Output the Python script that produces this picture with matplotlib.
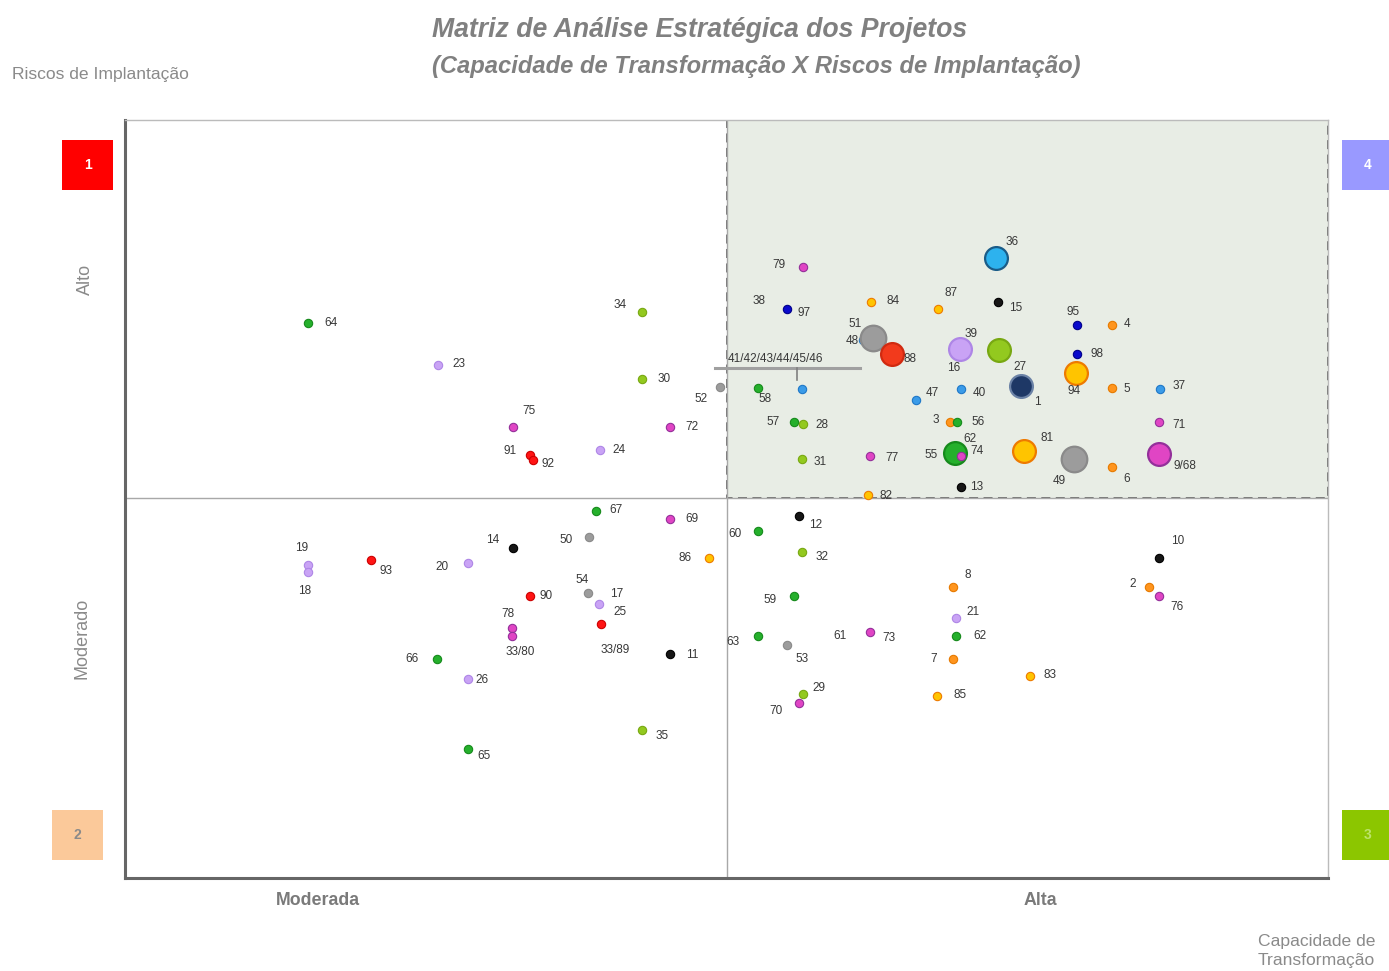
import matplotlib
matplotlib.use('Agg')
import matplotlib.pyplot as plt
from matplotlib.patches import Rectangle

W, H = 1389, 971
plt.rcParams['font.family'] = ['Liberation Sans', 'DejaVu Sans']

# projetos: id, capacidade de transformacao (x), risco de implantacao (y, escala da figura), cor, porte
ids = ['64', '23', '75', '91', '92', '34', '30', '52', '72', '24', '38', '58', '41-46', '57', '28',
       '31', '77', '82', '84', '79', '48', '51', '88', '36', '87', '15', '95', '4', '98', '39',
       'lima_g', '27', '94', '5', '37', '47', '40', '3', '56', '71', '55', '74', '81', '49', '6',
       '9/68', '13',
       '19', '18', '93', '20', '14', '50', '90', '78', '33/80', '66', '26', '65', '67', '69', '86',
       '54', '17', '25', '11', '35', '12', '60', '32', '59', '63', '53', '73', '29', '70', '10',
       '2', '76', '8', '21', '62', '7', '83', '85']
cap_x = [308, 438, 513, 530, 533, 642, 642, 720, 670, 600, 787, 758, 802, 794, 803,
         802, 870, 868, 871, 803, 863, 873, 892, 996, 938, 998, 1077, 1112, 1077, 960,
         999, 1021, 1076, 1112, 1160, 916, 961, 950, 957, 1159, 955, 961, 1024, 1074, 1112,
         1159, 961,
         308, 308, 371, 468, 513, 589, 530, 512, 512, 437, 468, 468, 596, 670, 709,
         588, 599, 601, 670, 642, 799, 758, 802, 794, 758, 787, 870, 803, 799, 1159,
         1149, 1159, 953, 956, 956, 953, 1030, 937]
risco_y = [323, 365, 427, 455, 460, 312, 379, 387, 427, 450, 309, 388, 389, 422, 424,
           459, 456, 495, 302, 267, 340, 338, 354, 258, 309, 302, 325, 325, 354, 349,
           350, 386, 373, 388, 389, 400, 389, 422, 422, 422, 453, 456, 451, 459, 467,
           454, 487,
           565, 572, 560, 563, 548, 537, 596, 628, 636, 659, 679, 749, 511, 519, 558,
           593, 604, 624, 654, 730, 516, 531, 552, 596, 636, 645, 632, 694, 703, 558,
           587, 596, 587, 618, 636, 659, 676, 696]
cores = ['verde', 'lilas', 'magenta', 'vermelho', 'vermelho', 'lima', 'lima', 'cinza', 'magenta', 'lilas',
         'azul_escuro', 'verde', 'azul', 'verde', 'lima',
         'lima', 'magenta', 'ouro', 'ouro', 'magenta', 'azul', 'cinza', 'laranja_verm', 'ciano', 'ouro',
         'preto', 'azul_escuro', 'laranja', 'azul_escuro', 'lilas',
         'lima', 'marinho', 'ouro', 'laranja', 'azul', 'azul', 'azul', 'laranja', 'verde', 'magenta',
         'verde', 'magenta', 'ouro', 'cinza', 'laranja', 'magenta', 'preto',
         'lilas', 'lilas', 'vermelho', 'lilas', 'preto', 'cinza', 'vermelho', 'magenta', 'magenta',
         'verde', 'lilas', 'verde', 'verde', 'magenta', 'ouro',
         'cinza', 'lilas', 'vermelho', 'preto', 'lima', 'preto', 'verde', 'lima', 'verde', 'verde',
         'cinza', 'magenta', 'lima', 'magenta', 'preto',
         'laranja', 'magenta', 'laranja', 'lilas', 'verde', 'laranja', 'ouro', 'ouro']
grandes = ['51', '88', '36', '39', 'lima_g', '27', '94', '55', '81', '49', '9/68']

PALETA = {
    'verde': ('#25B02C', '#168A1C'),
    'lima': ('#93C91F', '#78A812'),
    'lilas': ('#C9A3F5', '#AE86E6'),
    'magenta': ('#E045C4', '#93309A'),
    'vermelho': ('#FF1414', '#CC0000'),
    'laranja_verm': ('#F23A1C', '#D02A10'),
    'preto': ('#161616', '#000000'),
    'cinza': ('#9C9C9C', '#8A8A8A'),
    'laranja': ('#FF951E', '#E67A00'),
    'ouro': ('#FFC400', '#EE7A00'),
    'azul': ('#3A9BE8', '#1F78C8'),
    'azul_escuro': ('#0A0ACC', '#00008A'),
    'marinho': ('#1E3866', '#6B82A6'),
    'ciano': ('#2DB2EE', '#1A5C88'),
}

# rotulos (texto, dx, dy) em pixels relativos ao ponto
ROTULOS = {
    '64': [('64', 23, 0)], '23': [('23', 21, -1)], '75': [('75', 16, -16)], '91': [('91', -20, -4)],
    '92': [('92', 15, 4)], '34': [('34', -22, -7)], '30': [('30', 22, 0)], '52': [('52', -19, 12)],
    '72': [('72', 22, 0)], '24': [('24', 19, 0)], '38': [('38', -28, -8), ('97', 17, 4)],
    '58': [('58', 7, 11)], '57': [('57', -21, 0)], '28': [('28', 19, 1)], '31': [('31', 18, 3)],
    '77': [('77', 22, 2)], '82': [('82', 18, 1)], '84': [('84', 22, -1)], '79': [('79', -24, -2)],
    '48': [('48', -11, 1)], '51': [('51', -18, -14)], '88': [('88', 18, 5)], '36': [('36', 16, -16)],
    '87': [('87', 13, -16)], '15': [('15', 18, 6)], '95': [('95', -4, -13)], '4': [('4', 15, -1)],
    '98': [('98', 20, 0)], '39': [('39', 11, -15), ('16', -6, 19)], '27': [('27', -1, -19), ('1', 16, 16)],
    '94': [('94', -2, 18)], '5': [('5', 15, 1)], '37': [('37', 19, -3)], '47': [('47', 16, -7)],
    '40': [('40', 18, 4)], '3': [('3', -14, -2)], '56': [('56', 21, 0)], '71': [('71', 20, 3)],
    '55': [('55', -24, 2)], '74': [('74', 16, -5), ('62', 9, -17)], '81': [('81', 23, -13)],
    '49': [('49', -15, 22)], '6': [('6', 15, 12)], '9/68': [('9/68', 26, 12)], '13': [('13', 16, 0)],
    '19': [('19', -6, -17)], '18': [('18', -3, 19)], '93': [('93', 15, 11)], '20': [('20', -26, 4)],
    '14': [('14', -20, -8)], '50': [('50', -23, 3)], '90': [('90', 16, 0)], '78': [('78', -4, -14)],
    '33/80': [('33/80', 8, 16)], '66': [('66', -25, 0)], '26': [('26', 14, 1)], '65': [('65', 16, 7)],
    '67': [('67', 20, -1)], '69': [('69', 22, 0)], '86': [('86', -24, 0)], '54': [('54', -6, -13)],
    '17': [('17', 18, -10)], '25': [('25', 19, -12), ('33/89', 14, 26)], '11': [('11', 22, 1)],
    '35': [('35', 20, 6)], '12': [('12', 17, 9)], '60': [('60', -23, 3)], '32': [('32', 20, 5)],
    '59': [('59', -24, 4)], '63': [('63', -25, 6)], '53': [('53', 15, 14)],
    '73': [('73', 19, 6), ('61', -30, 4)], '29': [('29', 16, -6)], '70': [('70', -23, 8)],
    '10': [('10', 19, -17)], '2': [('2', -16, -3)], '76': [('76', 18, 11)], '8': [('8', 15, -12)],
    '21': [('21', 17, -6)], '62': [('62', 24, 0)], '7': [('7', -19, 0)], '83': [('83', 20, -1)],
    '85': [('85', 23, -1)],
}

CENTRO_X, CENTRO_Y = 727, 498
X0, X1, Y0, Y1 = 125, 1328, 120, 878

fig = plt.figure(figsize=(W / 100, H / 100), dpi=100)
ax = fig.add_axes([X0 / W, 1 - Y1 / H, (X1 - X0) / W, (Y1 - Y0) / H])
ax.set_xlim(X0, X1)
ax.set_ylim(Y1, Y0)
ax.set_xticks([])
ax.set_yticks([])
for lado in ['left', 'bottom']:
    ax.spines[lado].set_color('#666666')
    ax.spines[lado].set_linewidth(2.2)
for lado in ['top', 'right']:
    ax.spines[lado].set_color('#BBBBBB')
    ax.spines[lado].set_linewidth(1)

# quadrante destacado
ax.add_patch(Rectangle((CENTRO_X, Y0), X1 - CENTRO_X, CENTRO_Y - Y0, facecolor='#E8EDE5',
                       edgecolor='#6A6A6A', linestyle=(0, (5, 3)), linewidth=1.3, zorder=1))
ax.axvline(CENTRO_X, color='#A8A8A8', lw=1, zorder=1.5)
ax.axhline(CENTRO_Y, color='#A8A8A8', lw=1, zorder=1.5)

for i, pid in enumerate(ids):
    cor, borda = PALETA[cores[i]]
    grande = pid in grandes
    s = 270 if grande else 36
    if pid in ('51', '49'):
        s = 340
    z = 3 if grande else 4
    if pid == '48':
        z = 2.5
    ax.scatter(cap_x[i], risco_y[i], s=s, c=cor, edgecolors=borda,
               linewidths=1.6 if grande else 0.8, zorder=z)
    for txt, dx, dy in ROTULOS.get(pid, []):
        ax.annotate(txt, (cap_x[i], risco_y[i]), xytext=(dx, -dy), textcoords='offset pixels',
                    ha='center', va='center', fontsize=8.5, color='#383838', zorder=5)

# chave dos projetos 41 a 46
k = ids.index('41-46')
px, py = cap_x[k], risco_y[k]
ax.plot([px - 87, px + 58], [py - 21, py - 21], color='#A0A0A0', lw=2.2, zorder=5)
ax.plot([px - 5, px - 5], [py - 21, py - 9], color='#808080', lw=1.2, zorder=5)
ax.annotate('41/42/43/44/45/46', (px, py), xytext=(-27, 30), textcoords='offset pixels',
            ha='center', va='center', fontsize=8.5, color='#383838', zorder=5)


def ftext(x, y, s, **kw):
    fig.text(x / W, 1 - y / H, s, **kw)


def caixa(x, y, w, h, cor, txt, cor_txt):
    fig.add_artist(Rectangle((x / W, 1 - (y + h) / H), w / W, h / H, transform=fig.transFigure,
                             facecolor=cor, edgecolor='none'))
    ftext(x + w / 2, y + h / 2, txt, ha='center', va='center', fontsize=10,
          fontweight='bold', color=cor_txt)


caixa(62, 140, 51, 50, '#FF0000', '1', 'white')
caixa(52, 810, 51, 50, '#FBC99A', '2', '#8A8A8A')
caixa(1342, 140, 51, 50, '#9999FF', '4', 'white')
caixa(1342, 810, 51, 50, '#8CC600', '3', '#BDE36A')

ftext(432, 30, 'Matriz de Análise Estratégica dos Projetos', ha='left', va='center',
      fontsize=19.2, fontstyle='italic', fontweight='bold', color='#808080')
ftext(432, 66, '(Capacidade de Transformação X Riscos de Implantação)', ha='left', va='center',
      fontsize=17.1, fontstyle='italic', fontweight='bold', color='#808080')
ftext(12, 74, 'Riscos de Implantação', ha='left', va='center', fontsize=12.6, color='#8A8A8A')
ftext(85, 279, 'Alto', ha='center', va='center', rotation=90, fontsize=13, color='#8A8A8A')
ftext(82, 638, 'Moderado', ha='center', va='center', rotation=90, fontsize=13, color='#8A8A8A')
ftext(318, 900, 'Moderada', ha='center', va='center', fontsize=12.8, fontweight='bold', color='#7A7A7A')
ftext(1040, 900, 'Alta', ha='center', va='center', fontsize=12.8, fontweight='bold', color='#7A7A7A')
ftext(1258, 951, 'Capacidade de\nTransformação', ha='left', va='center', fontsize=12.6,
      color='#8A8A8A', linespacing=1.35)

fig.savefig('out.png', dpi=100)
